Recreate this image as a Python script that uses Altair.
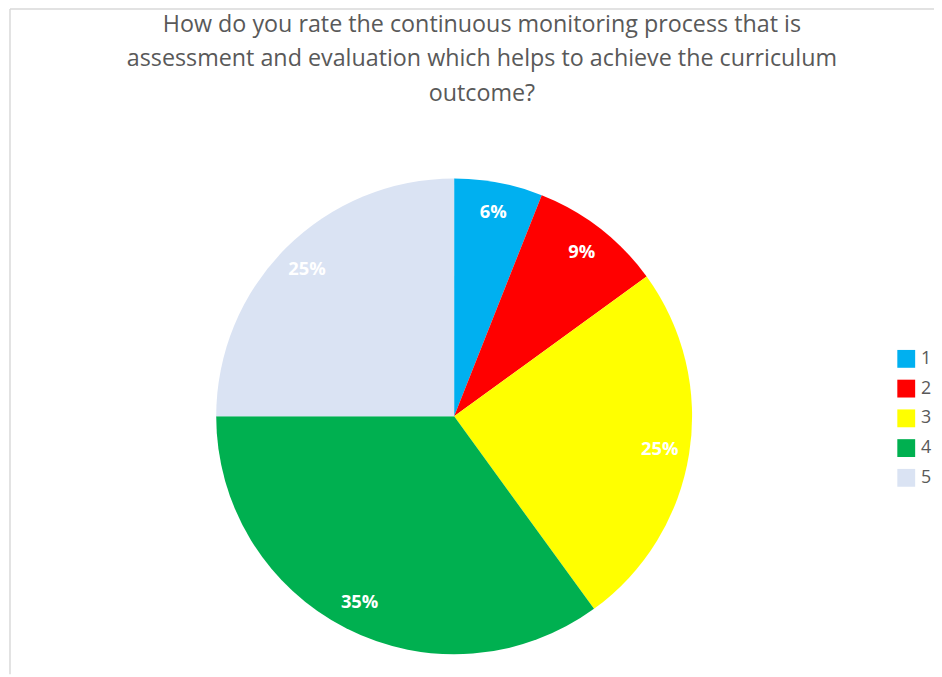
import altair as alt
import pandas as pd

categories = ["1", "2", "3", "4", "5"]
percents = [6, 9, 25, 35, 25]
colors = ["#00B0F0", "#FF0000", "#FFFF00", "#00B050", "#DAE3F3"]
title_lines = [
    "How do you rate the continuous monitoring process that is",
    "assessment and evaluation which helps to achieve the curriculum",
    "outcome?",
]

FONT = "Open Sans"
df = pd.DataFrame({"cat": categories, "pct": percents, "ord": list(range(len(categories)))})

CX, CY = 450, 409  # pie centre in view coordinates

base = alt.Chart(df).encode(
    theta=alt.Theta("pct:Q", stack=True),
    order=alt.Order("ord:Q", sort="ascending"),
)

pie = base.mark_arc(outerRadius=240).encode(
    x=alt.value(CX),
    y=alt.value(CY),
    color=alt.Color(
        "cat:N",
        scale=alt.Scale(domain=categories, range=colors),
        legend=alt.Legend(
            title=None,
            orient="none",
            legendX=897,
            legendY=342,
            symbolType="square",
            symbolSize=324,
            symbolStrokeWidth=0,
            labelFontSize=18,
            labelFont=FONT,
            labelColor="#595959",
            rowPadding=12,
            labelOffset=6,
            padding=0,
        ),
    ),
)

labels = base.transform_calculate(label="datum.pct + '%'").mark_text(
    radius=210, color="white", fontWeight="bold", fontSize=18.5, font=FONT,
    align="center", baseline="middle",
).encode(
    x=alt.value(CX),
    y=alt.value(CY),
    text="label:N",
)

title_df = pd.DataFrame({"t": ["\n".join(title_lines)]})
title = alt.Chart(title_df).mark_text(
    lineBreak="\n", lineHeight=35, fontSize=23.5, font=FONT, color="#595959",
    align="center", baseline="alphabetic",
).encode(text="t:N", x=alt.value(478), y=alt.value(21))

border_df = pd.DataFrame({"a": [0]})
top_rule = alt.Chart(border_df).mark_rule(color="#d9d9d9", strokeWidth=1.5).encode(
    x=alt.value(2), x2=alt.value(934), y=alt.value(-2)
)
left_rule = alt.Chart(border_df).mark_rule(color="#d9d9d9", strokeWidth=1.5).encode(
    x=alt.value(2), y=alt.value(-2), y2=alt.value(669)
)

chart = alt.layer(top_rule, left_rule, pie, labels, title).properties(
    width=934, height=669, autosize=alt.AutoSizeParams(type="none"), padding=0,
    background="white",
).configure_view(stroke="transparent")

chart.save("out.html", embed_options={"renderer": "svg", "actions": False})
